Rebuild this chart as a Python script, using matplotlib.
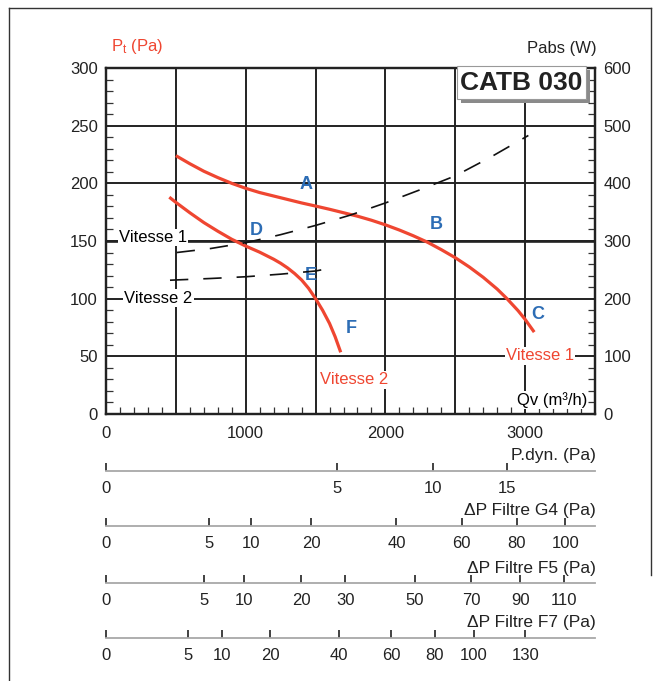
import numpy as np
import matplotlib.pyplot as plt
from matplotlib.lines import Line2D
from matplotlib.patches import Rectangle
from matplotlib.ticker import MultipleLocator, FuncFormatter

plt.rcParams['font.family'] = ['Liberation Sans', 'DejaVu Sans']

# pression totale (Pa) en fonction du debit (m3/h)
q_v1 = [500, 600, 700, 800, 900, 1000, 1100, 1200, 1300, 1400, 1500, 1600, 1700,
        1800, 1900, 2000, 2100, 2200, 2300, 2400, 2500, 2600, 2700, 2800, 2870,
        2950, 3000, 3065]
p_v1 = [224, 217, 210.5, 205, 200, 195.7, 192, 189, 186, 183, 180.3, 177.5, 174.5,
        171.5, 168, 164, 159.5, 154.5, 149, 142.5, 135.5, 127.5, 118.5, 108.3, 100,
        89.5, 82, 71]
q_v2 = [453, 500, 600, 700, 800, 900, 1000, 1100, 1200, 1250, 1300, 1350, 1400,
        1450, 1500, 1550, 1600, 1640, 1680]
p_v2 = [188, 183.5, 174.5, 166, 158.5, 151.5, 145.6, 140.3, 134.2, 130.7, 126.6,
        121.8, 116.2, 109, 100, 90, 78.5, 67, 53.5]

# puissance absorbee (W)
q_w1 = [506, 750, 1000, 1250, 1500, 1750, 2000, 2250, 2500, 2750, 3023]
w_1 = [280, 287, 297, 311, 327, 345, 366, 389, 413, 445, 483]
q_w2 = [458, 750, 1000, 1250, 1500, 1598]
w_2 = [232, 235, 238, 242.5, 248, 252.5]

# points de fonctionnement
pt_names = ['A', 'B', 'C', 'D', 'E', 'F']
pt_q = [1432, 2362, 3092, 1074, 1465, 1752]
pt_p = [199.4, 163.9, 86.7, 158.7, 119.9, 74.3]

# echelles annexes
pdyn_ticks = [0, 5, 10, 15]
g4_ticks = [0, 5, 10, 20, 40, 60, 80, 100]
f5_ticks = [0, 5, 10, 20, 30, 50, 70, 90, 110]
f7_ticks = [0, 5, 10, 20, 40, 60, 80, 100, 130]
rows = [('P.dyn. (Pa)', pdyn_ticks, 549000),
        ('\u0394P Filtre G4 (Pa)', g4_ticks, 108000),
        ('\u0394P Filtre F5 (Pa)', f5_ticks, 97600),
        ('\u0394P Filtre F7 (Pa)', f7_ticks, 69300)]

red = '#ef4631'
blue = '#2d6db5'
dark = '#222222'
W, H = 662, 681

fig = plt.figure(figsize=(W / 100, H / 100), dpi=100)
ax = fig.add_axes([106 / W, 1 - 414 / H, 489 / W, 346 / H])
ax.set_xlim(0, 3500)
ax.set_ylim(0, 300)

ax.xaxis.set_major_locator(MultipleLocator(500))
ax.xaxis.set_minor_locator(MultipleLocator(100))
ax.xaxis.set_major_formatter(FuncFormatter(lambda v, p: f'{v:.0f}' if v % 1000 == 0 else ''))
ax.yaxis.set_major_locator(MultipleLocator(50))
ax.yaxis.set_minor_locator(MultipleLocator(10))
ax.grid(True, which='major', color=dark, lw=1.4)
ax.axhline(150, color=dark, lw=1.9, zorder=1.6)
ax.tick_params(axis='both', which='major', length=0, labelsize=12, colors='#222')
ax.tick_params(axis='x', which='major', pad=9)
ax.tick_params(axis='y', which='major', pad=6)
ax.tick_params(axis='both', which='minor', direction='in', length=5, width=0.9, color='#333')
for s in ax.spines.values():
    s.set_linewidth(1.6)
    s.set_color(dark)

ax.plot(q_v1, p_v1, color=red, lw=2.3, solid_capstyle='butt', zorder=4)
ax.plot(q_v2, p_v2, color=red, lw=2.3, solid_capstyle='butt', zorder=4)

box = dict(facecolor='white', edgecolor='none', pad=1)
ax.text(336, 153, 'Vitesse 1', fontsize=12, ha='center', va='center', bbox=box, zorder=3)
ax.text(374, 100.3, 'Vitesse 2', fontsize=12, ha='center', va='center', bbox=box, zorder=3)
ax.text(3107, 50.3, 'Vitesse 1', fontsize=12, color=red, ha='center', va='center', bbox=box, zorder=3)
ax.text(1775, 29.5, 'Vitesse 2', fontsize=12, color=red, ha='center', va='center', bbox=box, zorder=3)
ax.text(3443, 12, 'Qv (m\u00b3/h)', fontsize=12, ha='right', va='center', bbox=box, zorder=3)
for name, q, p in zip(pt_names, pt_q, pt_p):
    ax.text(q, p, name, fontsize=13, fontweight='bold', color=blue, ha='center', va='center', zorder=5)

tw = ax.twinx()
tw.set_ylim(0, 600)
tw.yaxis.set_major_locator(MultipleLocator(100))
tw.yaxis.set_minor_locator(MultipleLocator(20))
tw.tick_params(axis='y', which='major', length=0, labelsize=12, pad=6, colors='#222')
tw.tick_params(axis='y', which='minor', direction='in', length=5, width=0.9, color='#333')
for s in tw.spines.values():
    s.set_linewidth(1.6)
    s.set_color(dark)
tw.plot(q_w1, w_1, color='#111', lw=1.2, ls=(0, (11, 9)))
tw.plot(q_w2, w_2, color='#111', lw=1.2, ls=(0, (11, 9)))

# echelles en bas
for (title, ticks, k), yl in zip(rows, [470.7, 526, 583, 637.5]):
    r = fig.add_axes([106 / W, 1 - yl / H, 489 / W, 0.0001])
    r.set_xscale('function', functions=(lambda x: np.sqrt(np.maximum(x, 0)), np.square))
    r.set_xlim(0, 3500 ** 2 / k)
    r.set_xticks(ticks)
    r.set_xticklabels([str(t) for t in ticks])
    r.set_yticks([])
    r.patch.set_visible(False)
    for side in ['top', 'left', 'right']:
        r.spines[side].set_visible(False)
    r.spines['bottom'].set_color('#a8a8a8')
    r.spines['bottom'].set_linewidth(1.3)
    r.tick_params(axis='x', direction='in', length=6, width=1.3, color='#333',
                  labelsize=12, pad=7.5, labelcolor='#222')
    fig.text(596 / W, 1 - (yl - 15) / H, title, fontsize=12.5, ha='right', va='center', color='#222')

# titres
fig.text(137 / W, 1 - 46 / H, r'$\mathregular{P_t}$ (Pa)', fontsize=12, color=red, ha='center', va='center')
fig.text(562 / W, 1 - 48 / H, 'Pabs (W)', fontsize=12, color='#222', ha='center', va='center')

fig.add_artist(Rectangle((461 / W, 1 - 103 / H), 129 / W, 33 / H, transform=fig.transFigure,
                         facecolor='#8a8a8a', edgecolor='none', zorder=5))
fig.add_artist(Rectangle((457 / W, 1 - 99 / H), 129 / W, 33 / H, transform=fig.transFigure,
                         facecolor='white', edgecolor='#999', lw=0.8, zorder=6))
fig.text(521 / W, 1 - 83 / H, 'CATB 030', fontsize=19, fontweight='bold', color='#222',
         ha='center', va='center', zorder=7)

# cadre
fy = 1 - 8 / H
fig.add_artist(Line2D([9 / W, 9 / W], [0, fy], color='#333', lw=1))
fig.add_artist(Line2D([9 / W, 651 / W], [fy, fy], color='#333', lw=1))
fig.add_artist(Line2D([651 / W, 651 / W], [1 - 575 / H, fy], color='#333', lw=1))

fig.savefig('out.png', dpi=100)
